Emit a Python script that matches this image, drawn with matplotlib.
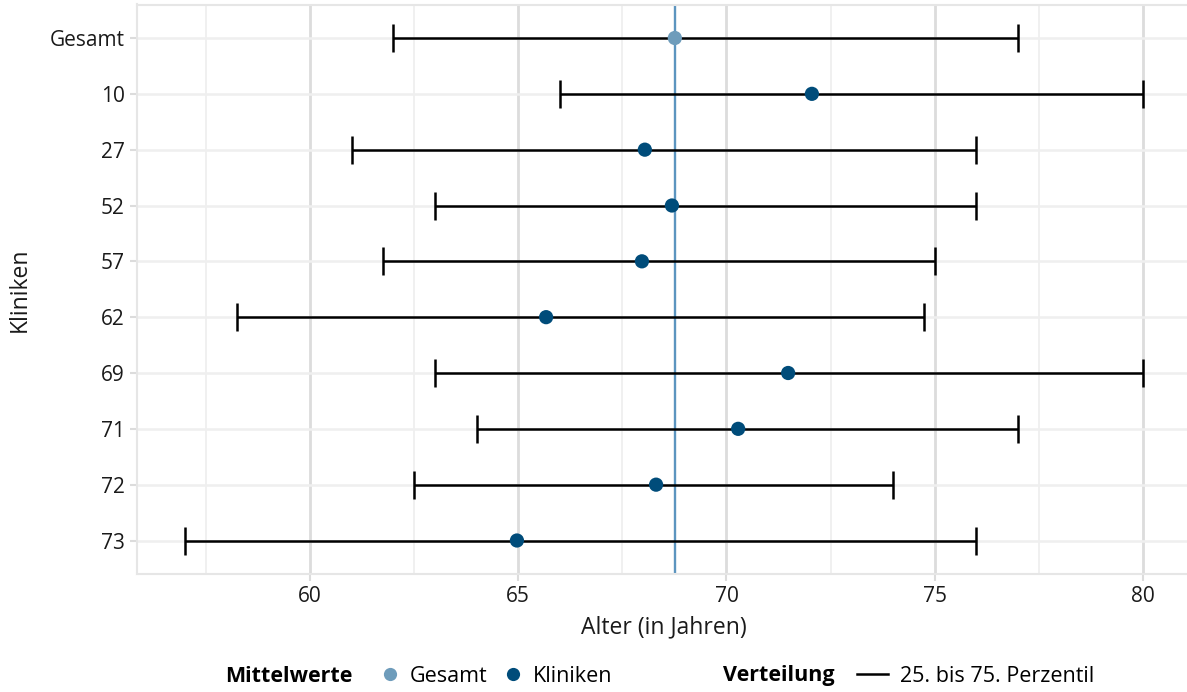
import numpy as np
import matplotlib.pyplot as plt
from matplotlib.lines import Line2D
from matplotlib.ticker import MultipleLocator

plt.rcParams['font.family'] = ['Open Sans', 'DejaVu Sans']

# Mittelwerte und 25./75. Perzentil des Alters je Klinik
labels = ['Gesamt', '10', '27', '52', '57', '62', '69', '71', '72', '73']
means = [68.76, 72.05, 68.04, 68.69, 67.97, 65.67, 71.48, 70.28, 68.31, 64.97]
p25 = [62, 66, 61, 63, 61.75, 58.25, 63, 64, 62.5, 57]
p75 = [77, 80, 76, 76, 75, 74.75, 80, 77, 74, 76]

col_gesamt = '#6e9cbb'
col_klinik = '#004c7a'
col_line = '#5c95bf'

fig = plt.figure(figsize=(11.87, 6.92), dpi=100)
ax = fig.add_axes([137 / 1187, 118 / 692, 1054 / 1187, 569.5 / 692])

y = np.arange(len(labels))
means = np.array(means)
p25 = np.array(p25)
p75 = np.array(p75)

ax.axvline(means[0], color=col_line, lw=1.7, zorder=2)
ax.errorbar(means, y, xerr=[means - p25, p75 - means], fmt='none',
            ecolor='black', elinewidth=1.8, capsize=10, capthick=1.8, zorder=3)
colors = [col_gesamt] + [col_klinik] * (len(labels) - 1)
ax.scatter(means, y, s=105, c=colors, zorder=4, linewidths=0)

ax.set_xlim(55.85, 81.15)
ax.set_ylim(len(labels) - 0.4, -0.6)
ax.set_yticks(y)
ax.set_yticklabels(labels)
ax.xaxis.set_major_locator(MultipleLocator(5))
ax.xaxis.set_minor_locator(MultipleLocator(2.5))

ax.grid(which='major', axis='x', color='#dcdcdc', lw=2)
ax.grid(which='minor', axis='x', color='#efefef', lw=1.3)
ax.grid(which='major', axis='y', color='#efefef', lw=1.8)
ax.set_axisbelow(True)
for s in ax.spines.values():
    s.set_color('#e6e6e6')
    s.set_linewidth(1.5)

ax.tick_params(which='major', length=5, width=1.5, color='#dcdcdc',
               labelsize=15, labelcolor='#1a1a1a', pad=4)
ax.tick_params(which='minor', length=0)
ax.set_xlabel('Alter (in Jahren)', fontsize=16.5, color='#1a1a1a', labelpad=6)
ax.set_ylabel('Kliniken', fontsize=16.5, color='#1a1a1a', labelpad=13)

# Legende unten
ly = 1 - 676 / 692
fig.text(225 / 1187, ly, 'Mittelwerte', fontsize=15.5, fontweight='bold',
         va='center', ha='left')
fig.text(723 / 1187, ly, 'Verteilung', fontsize=15.5, fontweight='bold',
         va='center', ha='left')
h1 = [Line2D([], [], ls='none', marker='o', ms=9.5, color=col_gesamt, mec='none'),
      Line2D([], [], ls='none', marker='o', ms=9.5, color=col_klinik, mec='none')]
fig.legend(h1, ['Gesamt', 'Kliniken'], ncol=2, frameon=False, fontsize=15.5,
           loc='center left', bbox_to_anchor=(358 / 1187, ly),
           handlelength=1.2, handletextpad=0.3, columnspacing=0.6)
h2 = [Line2D([], [], color='black', lw=1.8)]
fig.legend(h2, ['25. bis 75. Perzentil'], frameon=False, fontsize=15.5,
           loc='center left', bbox_to_anchor=(838 / 1187, ly),
           handlelength=1.4, handletextpad=0.6)

fig.savefig('out.png', dpi=100)
